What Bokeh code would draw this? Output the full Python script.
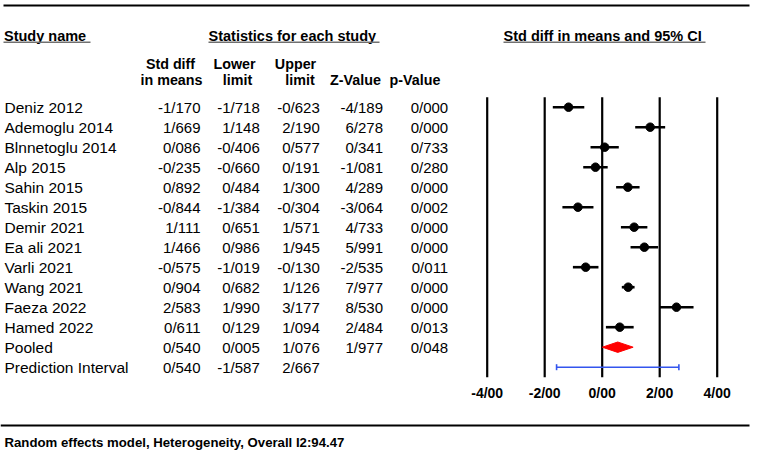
from bokeh.plotting import figure
from bokeh.models import Range1d, ColumnDataSource
from bokeh.core.properties import value
from bokeh.embed import file_html
from bokeh.resources import INLINE

# ---------------- data ----------------
studies = ["Deniz 2012", "Ademoglu 2014", "Blnnetoglu 2014", "Alp 2015", "Sahin 2015",
           "Taskin 2015", "Demir 2021", "Ea ali 2021", "Varli 2021", "Wang 2021",
           "Faeza 2022", "Hamed 2022", "Pooled", "Prediction Interval"]
smd = [-1.170, 1.669, 0.086, -0.235, 0.892, -0.844, 1.111, 1.466, -0.575, 0.904, 2.583, 0.611, 0.540, 0.540]
lower = [-1.718, 1.148, -0.406, -0.660, 0.484, -1.384, 0.651, 0.986, -1.019, 0.682, 1.990, 0.129, 0.005, -1.587]
upper = [-0.623, 2.190, 0.577, 0.191, 1.300, -0.304, 1.571, 1.945, -0.130, 1.126, 3.177, 1.094, 1.076, 2.667]
zval = [-4.189, 6.278, 0.341, -1.081, 4.289, -3.064, 4.733, 5.991, -2.535, 7.977, 8.530, 2.484, 1.977, None]
pval = [0.000, 0.000, 0.733, 0.280, 0.000, 0.002, 0.000, 0.000, 0.011, 0.000, 0.000, 0.013, 0.048, None]
ticks = [-4, -2, 0, 2, 4]
footer = "Random effects model, Heterogeneity, Overall I2:94.47"

n_study = 12
rows = list(range(len(studies)))


def fmt(v, d=3):
    if v is None:
        return ""
    return f"{v:.{d}f}".replace(".", "/")


# ---------------- layout constants ----------------
W, H = 751, 453
X0, Y0 = 0, 0
ZERO_PX, UNIT_PX = 601.7, 28.75
ROW0_PX, ROW_PX = 106.7, 20.0
FONT = "Liberation Sans"

p = figure(width=W, height=H, output_backend="svg", toolbar_location=None,
           x_range=Range1d(X0, X0 + W), y_range=Range1d(Y0 + H, Y0),
           min_border=0, min_border_left=0, min_border_right=0,
           min_border_top=0, min_border_bottom=0)
p.axis.visible = False
p.grid.visible = False
p.outline_line_color = None
p.background_fill_color = "white"
p.border_fill_color = "white"

p.extra_x_ranges = {"eff": Range1d((X0 - ZERO_PX) / UNIT_PX, (X0 + W - ZERO_PX) / UNIT_PX)}
p.extra_y_ranges = {"row": Range1d((Y0 + H - ROW0_PX) / ROW_PX, (Y0 - ROW0_PX) / ROW_PX)}

# horizontal rules
p.segment(x0=[3, 0], y0=[5, 425], x1=[749, 749], y1=[5, 425], line_color="black", line_width=2.2)

# section headers
hdr_font = dict(text_font=value(FONT), text_font_style="bold", text_font_size="14.5px",
                text_baseline="middle", text_color="black")
p.text(x=[3.5, 208, 503], y=[35, 35, 35],
       text=["Study name", "Statistics for each study", "Std diff in means and 95% CI"],
       text_align="left", **hdr_font)
p.segment(x0=[3, 208, 503], y0=[41.8] * 3, x1=[90, 379, 705], y1=[41.8] * 3,
          line_color="#707070", line_width=1.5)

# column headers
col_font = dict(text_font=value(FONT), text_font_style="bold", text_font_size="14.3px",
                text_baseline="middle", text_align="center", text_color="black")
p.text(x=[170, 234, 295], y=[63.5] * 3, text=["Std diff", "Lower", "Upper"], **col_font)
p.text(x=[171, 237, 299.5, 355, 414.5], y=[79.5] * 5,
       text=["in means", "limit", "limit", "Z-Value", "p-Value"], **col_font)

# table body
src = ColumnDataSource(dict(
    row=rows, name=studies,
    c1=[fmt(v) for v in smd], c2=[fmt(v) for v in lower], c3=[fmt(v) for v in upper],
    c4=[fmt(v) for v in zval], c5=[fmt(v) for v in pval]))
body = dict(text_font=value(FONT), text_baseline="middle", text_color="black", y_range_name="row")
p.text(x=4, y="row", text="name", source=src, text_align="left", text_font_size="15.5px", **body)
for col, xr in zip(["c1", "c2", "c3", "c4", "c5"], [200, 259.3, 319.3, 382.5, 447.7]):
    p.text(x=xr, y="row", text=col, source=src, text_align="right", text_font_size="15px", **body)

# forest plot: vertical reference lines
p.segment(x0=ticks, y0=[-0.5] * len(ticks), x1=ticks, y1=[13.5] * len(ticks),
          x_range_name="eff", y_range_name="row", line_color="black", line_width=2.2)

# study CIs and points
st = ColumnDataSource(dict(row=rows[:n_study], smd=smd[:n_study],
                           lo=lower[:n_study], hi=upper[:n_study]))
p.segment(x0="lo", y0="row", x1="hi", y1="row", source=st, x_range_name="eff",
          y_range_name="row", line_color="black", line_width=2.6)
p.scatter(x="smd", y="row", source=st, x_range_name="eff", y_range_name="row",
          marker="circle", size=8.5, fill_color="black", line_color="black")

# pooled diamond
pr = rows[12]
p.patch(x=[lower[12], smd[12], upper[12], smd[12]], y=[pr, pr - 0.26, pr, pr + 0.26],
        x_range_name="eff", y_range_name="row", fill_color="#ff0000", line_color="#ff0000")

# prediction interval
qr = rows[13]
p.segment(x0=[lower[13], lower[13], upper[13]], y0=[qr, qr - 0.15, qr - 0.15],
          x1=[upper[13], lower[13], upper[13]], y1=[qr, qr + 0.15, qr + 0.15],
          x_range_name="eff", y_range_name="row", line_color="#3355ee", line_width=1.6)

# tick labels
p.text(x=ticks, y=[392] * len(ticks), text=[fmt(t, 2) for t in ticks], x_range_name="eff",
       text_font=value(FONT), text_font_style="bold", text_font_size="14px",
       text_baseline="middle", text_align="center", text_color="black")

# footer
p.text(x=[4], y=[441.5], text=[footer], text_font=value(FONT), text_font_style="bold",
       text_font_size="13.2px", text_baseline="middle", text_align="left", text_color="black")

open("out.html", "w").write(file_html(p, INLINE))
